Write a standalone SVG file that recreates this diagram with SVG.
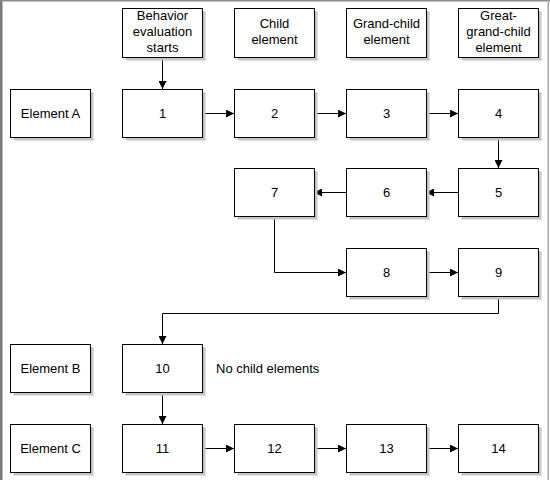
<svg xmlns="http://www.w3.org/2000/svg" width="550" height="480" viewBox="0 0 550 480">
<style>
.box{fill:#ffffff;stroke:#000000;stroke-width:1}
.sh{fill:#c4c4c4}
.t{font-family:"Liberation Sans",Arial,sans-serif;font-size:13px;fill:#000000;text-anchor:middle}
.tl{font-family:"Liberation Sans",Arial,sans-serif;font-size:13px;fill:#000000}
.c{fill:none;stroke:#000000;stroke-width:1}
</style>
<defs>
<marker id="ah" viewBox="0 0 8 8" refX="8" refY="4" markerWidth="8" markerHeight="8" markerUnits="userSpaceOnUse" orient="auto">
<path d="M0,0 L8,4 L0,8 Z" fill="#000000"/>
</marker>
</defs>
<rect x="0" y="0" width="550" height="480" fill="#ffffff"/>
<rect x="0" y="0" width="2.5" height="480" fill="#7a7a7a"/>
<rect x="0" y="0" width="550" height="1.5" fill="#8a8a8a"/>
<rect x="547.5" y="0" width="1.5" height="480" fill="#a8a8a8"/>

<g id="connectors">
<path class="c" d="M162.5,57 V89" marker-end="url(#ah)"/>
<path class="c" d="M205,113.5 H234" marker-end="url(#ah)"/>
<path class="c" d="M314,113.5 H346" marker-end="url(#ah)"/>
<path class="c" d="M426,113.5 H458" marker-end="url(#ah)"/>
<path class="c" d="M498.5,137 V168" marker-end="url(#ah)"/>
<path class="c" d="M458,192.5 H426" marker-end="url(#ah)"/>
<path class="c" d="M346,192.5 H314" marker-end="url(#ah)"/>
<path class="c" d="M274.5,216 V272.5 H346" marker-end="url(#ah)"/>
<path class="c" d="M426,272.5 H458" marker-end="url(#ah)"/>
<path class="c" d="M498.5,296 V313.5 H162.5 V344" marker-end="url(#ah)"/>
<path class="c" d="M162.5,392 V424" marker-end="url(#ah)"/>
<path class="c" d="M202,448.5 H234" marker-end="url(#ah)"/>
<path class="c" d="M314,448.5 H346" marker-end="url(#ah)"/>
<path class="c" d="M426,448.5 H458" marker-end="url(#ah)"/>
</g>

<g id="h1"><rect class="sh" x="125.5" y="11.5" width="80" height="49"/><rect class="box" x="122.5" y="8.5" width="80" height="49"/><text class="t" x="162.5" y="20">Behavior</text><text class="t" x="162.5" y="36">evaluation</text><text class="t" x="162.5" y="52">starts</text></g>
<g id="h2"><rect class="sh" x="237.5" y="11.5" width="80" height="49"/><rect class="box" x="234.5" y="8.5" width="80" height="49"/><text class="t" x="274.5" y="28">Child</text><text class="t" x="274.5" y="44">element</text></g>
<g id="h3"><rect class="sh" x="349.5" y="11.5" width="80" height="49"/><rect class="box" x="346.5" y="8.5" width="80" height="49"/><text class="t" x="386.5" y="28">Grand-child</text><text class="t" x="386.5" y="44">element</text></g>
<g id="h4"><rect class="sh" x="461.5" y="11.5" width="80" height="49"/><rect class="box" x="458.5" y="8.5" width="80" height="49"/><text class="t" x="498.5" y="20">Great-</text><text class="t" x="498.5" y="36">grand-child</text><text class="t" x="498.5" y="52">element</text></g>

<g id="elA"><rect class="sh" x="13.5" y="92.5" width="80" height="48"/><rect class="box" x="10.5" y="89.5" width="80" height="48"/><text class="t" x="50.5" y="118">Element A</text></g>
<g id="n1"><rect class="sh" x="125.5" y="92.5" width="80" height="48"/><rect class="box" x="122.5" y="89.5" width="80" height="48"/><text class="t" x="162.5" y="118">1</text></g>
<g id="n2"><rect class="sh" x="237.5" y="92.5" width="80" height="48"/><rect class="box" x="234.5" y="89.5" width="80" height="48"/><text class="t" x="274.5" y="118">2</text></g>
<g id="n3"><rect class="sh" x="349.5" y="92.5" width="80" height="48"/><rect class="box" x="346.5" y="89.5" width="80" height="48"/><text class="t" x="386.5" y="118">3</text></g>
<g id="n4"><rect class="sh" x="461.5" y="92.5" width="80" height="48"/><rect class="box" x="458.5" y="89.5" width="80" height="48"/><text class="t" x="498.5" y="118">4</text></g>

<g id="n7"><rect class="sh" x="237.5" y="171.5" width="80" height="48"/><rect class="box" x="234.5" y="168.5" width="80" height="48"/><text class="t" x="274.5" y="197">7</text></g>
<g id="n6"><rect class="sh" x="349.5" y="171.5" width="80" height="48"/><rect class="box" x="346.5" y="168.5" width="80" height="48"/><text class="t" x="386.5" y="197">6</text></g>
<g id="n5"><rect class="sh" x="461.5" y="171.5" width="80" height="48"/><rect class="box" x="458.5" y="168.5" width="80" height="48"/><text class="t" x="498.5" y="197">5</text></g>

<g id="n8"><rect class="sh" x="349.5" y="251.5" width="80" height="48"/><rect class="box" x="346.5" y="248.5" width="80" height="48"/><text class="t" x="386.5" y="277">8</text></g>
<g id="n9"><rect class="sh" x="461.5" y="251.5" width="80" height="48"/><rect class="box" x="458.5" y="248.5" width="80" height="48"/><text class="t" x="498.5" y="277">9</text></g>

<g id="elB"><rect class="sh" x="13.5" y="347.5" width="80" height="48"/><rect class="box" x="10.5" y="344.5" width="80" height="48"/><text class="t" x="50.5" y="373">Element B</text></g>
<g id="n10"><rect class="sh" x="125.5" y="347.5" width="80" height="48"/><rect class="box" x="122.5" y="344.5" width="80" height="48"/><text class="t" x="162.5" y="373">10</text></g>
<text id="note" class="tl" x="216" y="373">No child elements</text>

<g id="elC"><rect class="sh" x="13.5" y="427.5" width="80" height="48"/><rect class="box" x="10.5" y="424.5" width="80" height="48"/><text class="t" x="50.5" y="453">Element C</text></g>
<g id="n11"><rect class="sh" x="125.5" y="427.5" width="80" height="48"/><rect class="box" x="122.5" y="424.5" width="80" height="48"/><text class="t" x="162.5" y="453">11</text></g>
<g id="n12"><rect class="sh" x="237.5" y="427.5" width="80" height="48"/><rect class="box" x="234.5" y="424.5" width="80" height="48"/><text class="t" x="274.5" y="453">12</text></g>
<g id="n13"><rect class="sh" x="349.5" y="427.5" width="80" height="48"/><rect class="box" x="346.5" y="424.5" width="80" height="48"/><text class="t" x="386.5" y="453">13</text></g>
<g id="n14"><rect class="sh" x="461.5" y="427.5" width="80" height="48"/><rect class="box" x="458.5" y="424.5" width="80" height="48"/><text class="t" x="498.5" y="453">14</text></g>
</svg>
